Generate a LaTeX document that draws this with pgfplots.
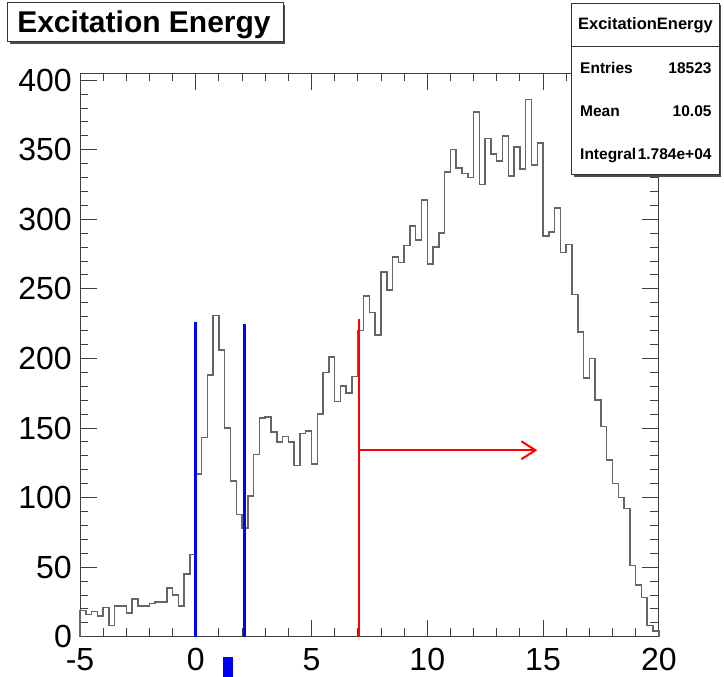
\documentclass[border=0pt]{standalone}
\usepackage{fontspec}
\setmainfont{Liberation Sans}
\usepackage{pgfplots}
\usepackage{pgfplotstable}
\pgfplotsset{compat=1.18}
\usetikzlibrary{arrows.meta}

\pgfplotstableread{
x y
-5 0
-5 19
-4.75 16
-4.5 18
-4.25 15
-4 21
-3.75 8
-3.5 22
-3.25 22
-3 17
-2.75 27
-2.5 22
-2.25 22
-2 24
-1.75 25
-1.5 25
-1.25 35
-1 30
-0.75 22
-0.5 45
-0.25 59
0 117
0.25 143
0.5 188
0.75 231
1 206
1.25 150
1.5 112
1.75 88
2 78
2.25 101
2.5 131
2.75 157
3 158
3.25 147
3.5 140
3.75 144
4 140
4.25 123
4.5 146
4.75 148
5 124
5.25 160
5.5 190
5.75 201
6 169
6.25 180
6.5 175
6.75 187
7 220
7.25 245
7.5 233
7.75 217
8 262
8.25 249
8.5 273
8.75 269
9 281
9.25 295
9.5 285
9.75 314
10 268
10.25 280
10.5 290
10.75 334
11 350
11.25 337
11.5 333
11.75 330
12 377
12.25 325
12.5 358
12.75 347
13 342
13.25 360
13.5 331
13.75 352
14 336
14.25 386
14.5 339
14.75 355
15 288
15.25 291
15.5 308
15.75 276
16 282
16.25 246
16.5 219
16.75 186
17 200
17.25 170
17.5 151
17.75 127
18 110
18.25 100
18.5 92
18.75 51
19 37
19.25 28
19.5 8
19.75 4
20 4
20 0
}\histdata

\begin{document}
\begin{tikzpicture}
\path[use as bounding box] (-80pt,-40.3pt) rectangle (644pt,636.7pt);
\begin{axis}[
  at={(0pt,0pt)}, anchor=south west,
  scale only axis, width=578.8pt, height=563.5pt,
  xmin=-5, xmax=20, ymin=0, ymax=405,
  xtick={-5,0,5,10,15,20}, xticklabels={-5,0,5,10,15,20},
  ytick={0,50,...,400},
  minor x tick num=4, minor y tick num=4,
  tick align=inside,
  xtick pos=both, ytick pos=both,
  xticklabel pos=lower, yticklabel pos=left,
  major tick length=16.7pt, minor tick length=8.3pt,
  axis line style={black!75, line width=0.9pt},
  every tick/.style={black!75, line width=0.9pt},
  /pgf/number format/assume math mode=true,
  tick label style={font=\fontsize{32}{32}\selectfont, black, inner sep=0pt},
  yticklabel style={xshift=-8pt},
  xticklabel style={yshift=-11.5pt},
  clip=false,
]
\addplot[const plot, black!60, line width=1.5pt] table {\histdata};
\addplot[blue, line width=3pt] coordinates {(0,0) (0,226)};
\addplot[blue, line width=3pt] coordinates {(2.09,0) (2.09,225)};
\addplot[red, line width=2pt] coordinates {(7.03,0) (7.03,228)};
\addplot[red, line width=2pt, -{Straight Barb[length=14pt,width=18pt]}] coordinates {(7.03,134) (14.75,134)};
\addplot[fill=blue, draw=none] coordinates {(1.18,-14.8) (1.61,-14.8) (1.61,-29) (1.18,-29)} -- cycle;
\end{axis}
% title box
\fill[black!70] (-70pt,592.7pt) rectangle (205pt,631.7pt);
\filldraw[fill=white, draw=black!80, line width=1pt] (-72pt,594.7pt) rectangle (203pt,633.7pt);
\node[anchor=base, inner sep=0pt, font=\bfseries\fontsize{30}{30}\selectfont] at (64pt,603.7pt) {Excitation Energy};
% stat box
\fill[black!70] (493.7pt,459.7pt) rectangle (641.3pt,631.4pt);
\filldraw[fill=white, draw=black!80, line width=1pt] (491.7pt,461.7pt) rectangle (639.3pt,633.4pt);
\draw[black!80, line width=0.8pt] (491.7pt,590pt) -- (639.3pt,590pt);
\node[anchor=base, inner sep=0pt, font=\bfseries\fontsize{16.5}{16.5}\selectfont] at (565.5pt,606.7pt) {ExcitationEnergy};
\begin{scope}[every node/.style={inner sep=0pt, font=\bfseries\fontsize{15.5}{15.5}\selectfont}]
\node[anchor=base west] at (500pt,563.4pt) {Entries};
\node[anchor=base east] at (631.7pt,563.4pt) {18523};
\node[anchor=base west] at (500pt,520pt) {Mean};
\node[anchor=base east] at (631.7pt,520pt) {10.05};
\node[anchor=base west] at (500pt,477.4pt) {Integral};
\node[anchor=base east] at (631.7pt,477.4pt) {1.784e+04};
\end{scope}
\end{tikzpicture}
\end{document}
